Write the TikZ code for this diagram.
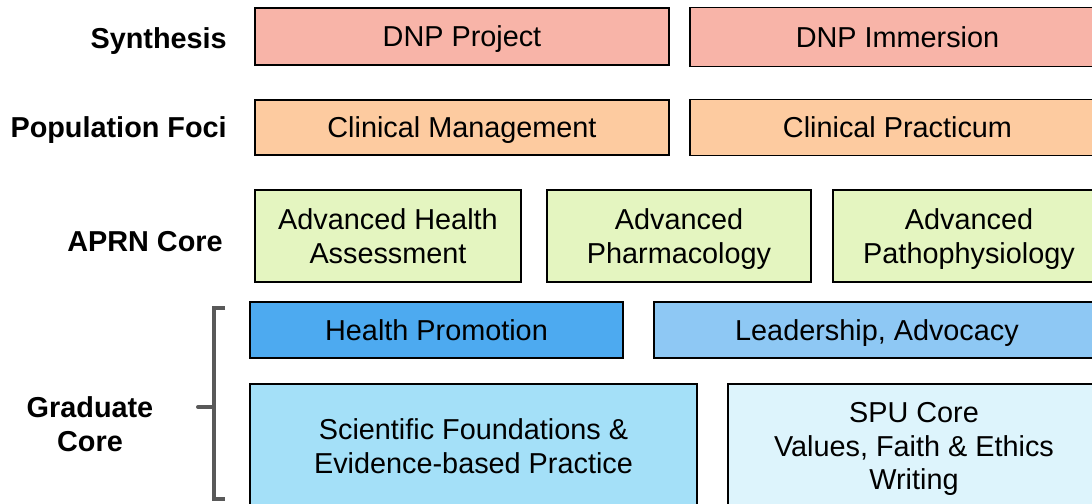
\documentclass[tikz,border=0pt]{standalone}
\usepackage{fontspec}
\setmainfont{Liberation Sans}
\usepackage{tikz}

\definecolor{synth}{HTML}{F8B4A8}
\definecolor{popfoci}{HTML}{FDCBA0}
\definecolor{aprn}{HTML}{E4F5C0}
\definecolor{hprom}{HTML}{4DAAF0}
\definecolor{lead}{HTML}{8EC8F4}
\definecolor{sci}{HTML}{A4E0F8}
\definecolor{spu}{HTML}{DDF4FC}
\definecolor{brace}{HTML}{595959}

\tikzset{
  box/.style={draw=black, line width=0.8pt, align=center, inner sep=0pt, text depth=0pt,
    font=\fontsize{20.5}{24}\selectfont},
  lbl/.style={align=center, inner sep=0pt, text depth=0pt, font=\fontsize{20.5}{24}\selectfont\bfseries}
}

\begin{document}
\begin{tikzpicture}[x=0.025cm, y=-0.025cm]
    \useasboundingbox (0,0) rectangle (1092,504);
    \clip (0,0) rectangle (1092,504);

    \node[lbl, anchor=east] (synth) at (227,38) {Synthesis};
    \node[lbl, anchor=east] (pop) at (227,127) {Population Foci};
    \node[lbl] (core) at (145,241) {APRN Core};
    \node[lbl] (grad) at (90,424) {Graduate\\Core};

    \node[box, fill=synth, minimum width=414*0.025cm, minimum height=57*0.025cm] (proj) at (462,36.5) {DNP Project};
    \node[box, fill=synth, minimum width=415*0.025cm, minimum height=59*0.025cm] (imm) at (897.5,37) {DNP Immersion};

    \node[box, fill=popfoci, minimum width=414*0.025cm, minimum height=55*0.025cm] (mgmt) at (462,127.5) {Clinical Management};
    \node[box, fill=popfoci, minimum width=415*0.025cm, minimum height=56*0.025cm] (prac) at (897.5,127.5) {Clinical Practicum};

    \node[box, fill=aprn, minimum width=266*0.025cm, minimum height=92*0.025cm] (assess) at (388,236) {Advanced Health\\Assessment};
    \node[box, fill=aprn, minimum width=264*0.025cm, minimum height=92*0.025cm] (pharm) at (679,236) {Advanced\\Pharmacology};
    \node[box, fill=aprn, minimum width=272*0.025cm, minimum height=92*0.025cm] (patho) at (969,236) {Advanced\\Pathophysiology};

    \node[box, fill=hprom, minimum width=373*0.025cm, minimum height=56*0.025cm] (health) at (436.5,330) {Health Promotion};
    \node[box, fill=lead, minimum width=446*0.025cm, minimum height=56*0.025cm] (advoc) at (877,330) {Leadership, Advocacy};

    \node[box, fill=sci, minimum width=447*0.025cm, minimum height=124*0.025cm] (ebp) at (473.5,446) {Scientific Foundations \&\\Evidence-based Practice};
    \node[box, fill=spu, minimum width=372*0.025cm, minimum height=124*0.025cm] (spucore) at (914,446) {SPU Core\\Values, Faith \& Ethics\\Writing};

    \draw[brace, line width=2.8pt] (225,308) -- (214,308) -- (214,499) -- (225,499);
    \draw[brace, line width=2.8pt, line cap=round] (214,407) -- (198,407);
\end{tikzpicture}
\end{document}
